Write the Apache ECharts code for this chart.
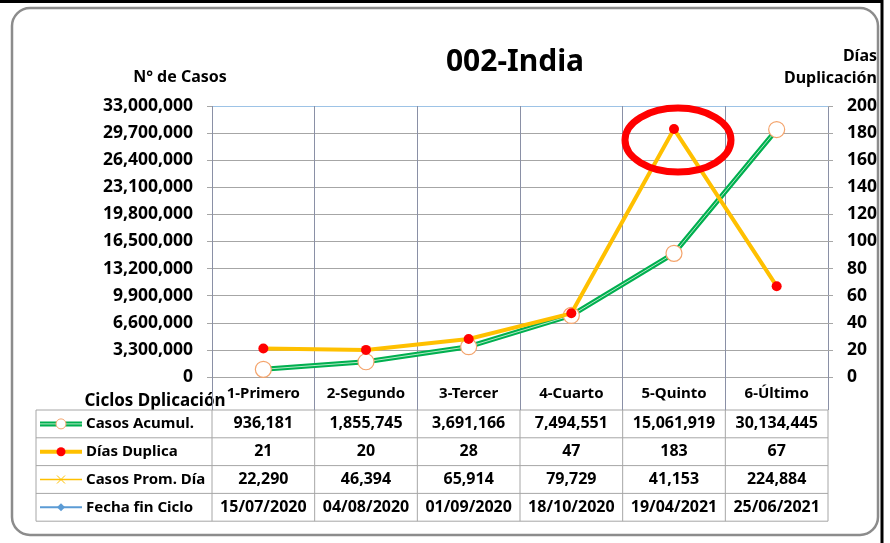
<!DOCTYPE html>
<html>
<head>
<meta charset="utf-8">
<script src="https://cdn.jsdelivr.net/npm/echarts@6/dist/echarts.min.js"></script>
<style>
  html, body { margin: 0; padding: 0; background: #fff; }
  #main { width: 890px; height: 543px; }
</style>
</head>
<body>
<div id="main"></div>
<script>
// datos del grafico
const ciclos = ['1-Primero', '2-Segundo', '3-Tercer', '4-Cuarto', '5-Quinto', '6-Último'];
const casosAcumul = [936181, 1855745, 3691166, 7494551, 15061919, 30134445];
const diasDuplica = [21, 20, 28, 47, 183, 67];
const casosPromDia = [22290, 46394, 65914, 79729, 41153, 224884];
const fechaFinCiclo = ['15/07/2020', '04/08/2020', '01/09/2020', '18/10/2020', '19/04/2021', '25/06/2021'];
const filas = ['Casos Acumul.', 'Días Duplica', 'Casos Prom. Día', 'Fecha fin Ciclo'];

const fuente = '"Noto Sans", sans-serif';
const fmt = v => v.toLocaleString('en-US');

let chart = echarts.init(document.getElementById('main'));

// lineas de la grilla: la de arriba es celeste
let gridColors = [];
for (let i = 0; i < 10; i++) gridColors.push('#a6a6a6');
gridColors.push('#9dc3e6');

chart.setOption({
    animation: false,
    grid: { left: 212, right: 62, top: 106, bottom: 166 },
    xAxis: {
        type: 'category',
        data: ciclos,
        boundaryGap: true,
        axisLine: { show: false },
        axisTick: { show: true, length: 33, lineStyle: { color: '#8a90a6' } },
        axisLabel: { margin: 9, color: '#000', fontWeight: 'bold', fontSize: 15, fontFamily: fuente },
        splitLine: { show: true, lineStyle: { color: '#8a90a6', width: 1 } }
    },
    yAxis: [
        {
            type: 'value', min: 0, max: 33000000, interval: 3300000,
            axisLine: { show: false },
            axisTick: { show: true, length: 5, lineStyle: { color: '#a6a6a6' } },
            axisLabel: { margin: 19, color: '#000', fontWeight: 'bold', fontSize: 17.5, fontFamily: fuente, formatter: v => fmt(v) },
            splitLine: { show: true, lineStyle: { color: gridColors } }
        },
        {
            type: 'value', min: 0, max: 200, interval: 20,
            axisLine: { show: false },
            axisTick: { show: true, length: 5, lineStyle: { color: '#a6a6a6' } },
            axisLabel: { margin: 19, color: '#000', fontWeight: 'bold', fontSize: 17.5, fontFamily: fuente },
            splitLine: { show: false }
        }
    ],
    series: [
        {
            name: 'Casos Acumul.',
            type: 'line',
            yAxisIndex: 0,
            data: casosAcumul,
            symbol: 'none',
            lineStyle: { color: '#00b050', width: 5 },
            z: 2
        },
        {
            // franja clara del doble trazo
            name: 'Casos Acumul. borde',
            type: 'line',
            yAxisIndex: 0,
            data: casosAcumul,
            symbol: 'circle',
            symbolSize: 16,
            itemStyle: { color: '#ffffff', borderColor: '#f4a46c', borderWidth: 1.2 },
            lineStyle: { color: '#b5e8c6', width: 1 },
            z: 3
        },
        {
            name: 'Días Duplica',
            type: 'line',
            yAxisIndex: 1,
            data: diasDuplica,
            symbol: 'circle',
            symbolSize: 10,
            itemStyle: { color: '#ff0000', borderWidth: 0 },
            lineStyle: { color: '#ffc000', width: 4 },
            z: 4
        }
    ]
});

// posiciones de las columnas a partir del eje
let x0 = chart.convertToPixel({ xAxisIndex: 0 }, 0);
let x1 = chart.convertToPixel({ xAxisIndex: 0 }, 1);
let banda = x1 - x0;
let izq = x0 - banda / 2;
let der = izq + banda * ciclos.length;
let tablaIzq = 36;
let filaTop = 410;
let filaAlto = 27.8;

let g = [];
// marco redondeado
g.push({ type: 'rect', shape: { x: 12, y: 8, width: 866, height: 527, r: 18 },
    style: { fill: 'none', stroke: '#8c8c8c', lineWidth: 2.5 }, z: 1 });
// bordes negros de la captura
g.push({ type: 'line', shape: { x1: 0, y1: 1.5, x2: 883, y2: 1.5 }, style: { stroke: '#000', lineWidth: 3 } });
g.push({ type: 'line', shape: { x1: 882, y1: 0, x2: 882, y2: 543 }, style: { stroke: '#000', lineWidth: 3 } });

// titulos
g.push({ type: 'text', x: 515, y: 62, style: { text: '002-India', font: 'bold 30px ' + fuente, fill: '#000', align: 'center', verticalAlign: 'middle' } });
g.push({ type: 'text', x: 180, y: 77, style: { text: 'N° de Casos', font: 'bold 16px ' + fuente, fill: '#000', align: 'center', verticalAlign: 'middle' } });
g.push({ type: 'text', x: 877, y: 67, style: { text: 'Días\nDuplicación', font: 'bold 16px ' + fuente, fill: '#000', align: 'right', verticalAlign: 'middle', lineHeight: 22 } });
g.push({ type: 'text', x: 155, y: 401, style: { text: 'Ciclos Dplicación', font: 'bold 17px ' + fuente, fill: '#000', align: 'center', verticalAlign: 'middle' } });

// circulo rojo sobre el pico
let pico = chart.convertToPixel({ xAxisIndex: 0, yAxisIndex: 1 }, [4, diasDuplica[4]]);
g.push({ type: 'ellipse', shape: { cx: pico[0] + 4, cy: pico[1] + 11, rx: 53, ry: 32 },
    style: { fill: 'none', stroke: '#ff0000', lineWidth: 7 }, z: 10 });

// tabla de datos
let filasDatos = [casosAcumul.map(fmt), diasDuplica.map(String), casosPromDia.map(fmt), fechaFinCiclo];
let bordeTabla = '#a6a6a6';
for (let r = 0; r <= filas.length; r++) {
    let y = filaTop + r * filaAlto;
    g.push({ type: 'line', shape: { x1: tablaIzq, y1: y, x2: der, y2: y }, style: { stroke: bordeTabla, lineWidth: 1 } });
}
let yFin = filaTop + filas.length * filaAlto;
g.push({ type: 'line', shape: { x1: tablaIzq, y1: filaTop, x2: tablaIzq, y2: yFin }, style: { stroke: bordeTabla, lineWidth: 1 } });
for (let c = 0; c <= ciclos.length; c++) {
    let x = izq + c * banda;
    g.push({ type: 'line', shape: { x1: x, y1: filaTop, x2: x, y2: yFin }, style: { stroke: bordeTabla, lineWidth: 1 } });
}
for (let r = 0; r < filas.length; r++) {
    let yc = filaTop + (r + 0.5) * filaAlto;
    g.push({ type: 'text', x: 86, y: yc, style: { text: filas[r], font: 'bold 15px ' + fuente, fill: '#000', align: 'left', verticalAlign: 'middle' } });
    for (let c = 0; c < ciclos.length; c++) {
        g.push({ type: 'text', x: izq + (c + 0.5) * banda, y: yc, style: { text: filasDatos[r][c], font: 'bold 16px ' + fuente, fill: '#000', align: 'center', verticalAlign: 'middle' } });
    }
}
// iconos de leyenda
let yc0 = filaTop + 0.5 * filaAlto;
g.push({ type: 'line', shape: { x1: 40, y1: yc0, x2: 82, y2: yc0 }, style: { stroke: '#00b050', lineWidth: 5 } });
g.push({ type: 'line', shape: { x1: 40, y1: yc0, x2: 82, y2: yc0 }, style: { stroke: '#b5e8c6', lineWidth: 1 } });
g.push({ type: 'circle', shape: { cx: 61, cy: yc0, r: 5 }, style: { fill: '#fff', stroke: '#f4a46c', lineWidth: 1 } });
let yc1 = filaTop + 1.5 * filaAlto;
g.push({ type: 'line', shape: { x1: 40, y1: yc1, x2: 82, y2: yc1 }, style: { stroke: '#ffc000', lineWidth: 4 } });
g.push({ type: 'circle', shape: { cx: 61, cy: yc1, r: 4.5 }, style: { fill: '#ff0000' } });
let yc2 = filaTop + 2.5 * filaAlto;
g.push({ type: 'line', shape: { x1: 40, y1: yc2, x2: 82, y2: yc2 }, style: { stroke: '#ffc000', lineWidth: 1.5 } });
g.push({ type: 'line', shape: { x1: 57, y1: yc2 - 4, x2: 65, y2: yc2 + 4 }, style: { stroke: '#ffc000', lineWidth: 1 } });
g.push({ type: 'line', shape: { x1: 57, y1: yc2 + 4, x2: 65, y2: yc2 - 4 }, style: { stroke: '#ffc000', lineWidth: 1 } });
let yc3 = filaTop + 3.5 * filaAlto;
g.push({ type: 'line', shape: { x1: 40, y1: yc3, x2: 82, y2: yc3 }, style: { stroke: '#5b9bd5', lineWidth: 2 } });
g.push({ type: 'polygon', shape: { points: [[61, yc3 - 4], [65, yc3], [61, yc3 + 4], [57, yc3]] }, style: { fill: '#5b9bd5' } });

chart.setOption({ graphic: { elements: g } });
</script>
</body>
</html>
